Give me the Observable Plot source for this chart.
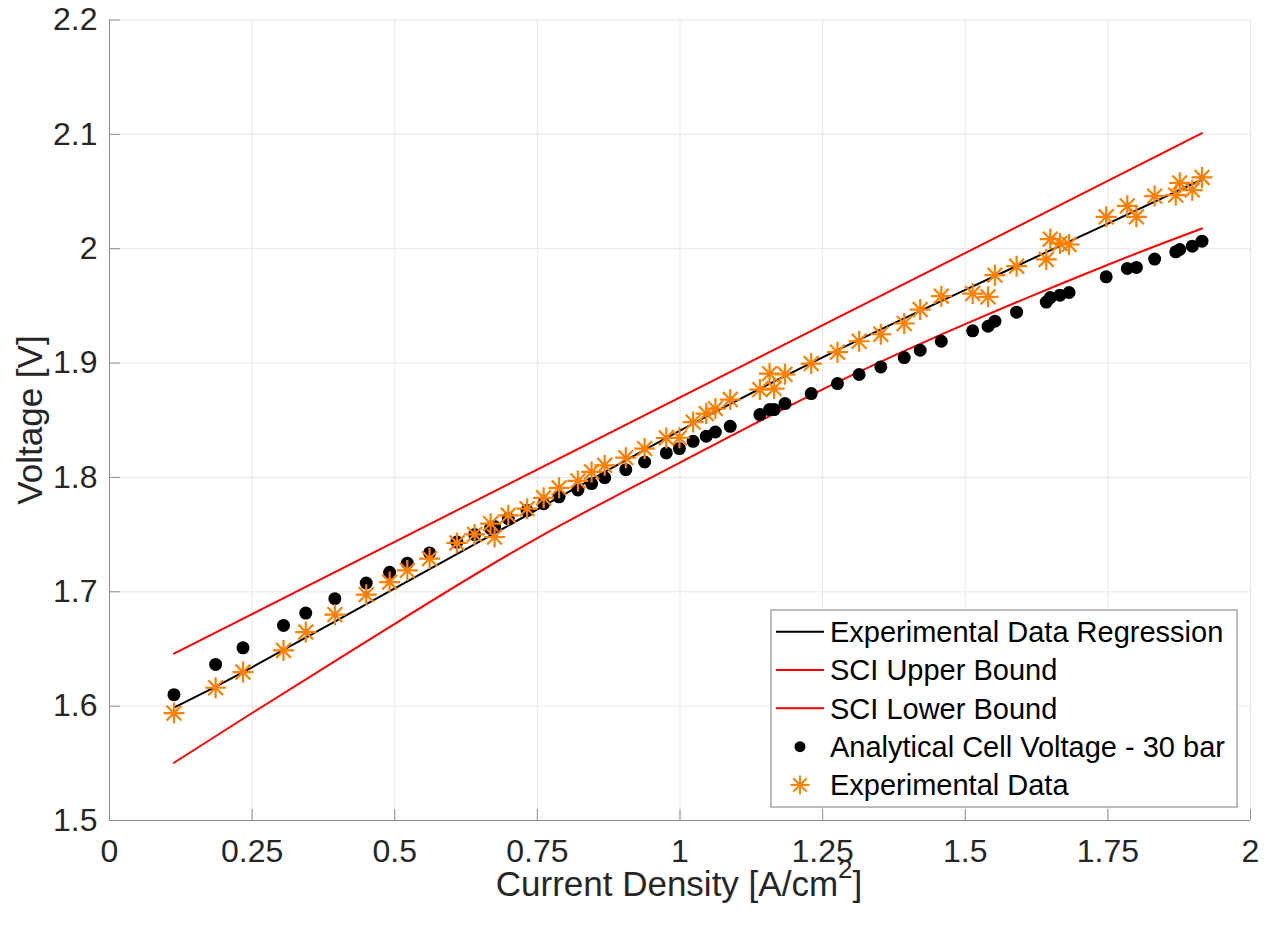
<!DOCTYPE html>
<html>
<head>
<meta charset="utf-8">
<script src="https://cdn.jsdelivr.net/npm/d3@7"></script>
<script src="https://cdn.jsdelivr.net/npm/@observablehq/plot@0.6"></script>
<style>
  html, body { margin: 0; padding: 0; background: #fff; overflow: hidden; }
</style>
</head>
<body>
<div id="chart"></div>
<script>
// ---------- data ----------
const xDomain = [0, 2];
const yDomain = [1.5, 2.2];
const xTicks = [0, 0.25, 0.5, 0.75, 1, 1.25, 1.5, 1.75, 2];
const yTicks = [1.5, 1.6, 1.7, 1.8, 1.9, 2.0, 2.1, 2.2];

const currentDensity = [0.113, 0.186, 0.234, 0.305, 0.344, 0.395, 0.450, 0.491, 0.522, 0.561,
  0.609, 0.640, 0.668, 0.675, 0.699, 0.732, 0.761, 0.788, 0.821, 0.845,
  0.868, 0.905, 0.938, 0.976, 0.999, 1.023, 1.046, 1.062, 1.088, 1.140,
  1.157, 1.165, 1.184, 1.230, 1.276, 1.314, 1.352, 1.393, 1.421, 1.458,
  1.513, 1.540, 1.552, 1.590, 1.642, 1.649, 1.666, 1.682, 1.747, 1.784,
  1.800, 1.832, 1.869, 1.876, 1.898, 1.915];

const analyticalVoltage = [1.610, 1.6365, 1.651, 1.6706, 1.6814, 1.694, 1.7077, 1.717, 1.725, 1.734,
  1.7435, 1.750, 1.7555, 1.757, 1.764, 1.771, 1.777, 1.783, 1.789, 1.7946,
  1.7998, 1.8068, 1.8135, 1.8214, 1.8252, 1.8316, 1.836, 1.8397, 1.8447, 1.855,
  1.8593, 1.8593, 1.8646, 1.8733, 1.8821, 1.890, 1.8966, 1.9048, 1.9112, 1.9191,
  1.9282, 1.9322, 1.9366, 1.9445, 1.9533, 1.9573, 1.9594, 1.9617, 1.9754, 1.9827,
  1.9836, 1.9909, 1.9973, 1.9993, 2.0022, 2.0066];

const experimentalVoltage = [1.5939, 1.6161, 1.6298, 1.6487, 1.6648, 1.680, 1.6975, 1.7085, 1.7187, 1.729,
  1.7427, 1.7502, 1.7596, 1.7479, 1.7669, 1.7727, 1.7822, 1.7909, 1.7969, 1.8048,
  1.8106, 1.8173, 1.8252, 1.8345, 1.8347, 1.8484, 1.8558, 1.8602, 1.8681, 1.8768,
  1.8908, 1.8777, 1.8902, 1.8996, 1.9095, 1.9191, 1.9252, 1.9346, 1.9468, 1.9585,
  1.9608, 1.9579, 1.9769, 1.9847, 1.9906, 2.0084, 2.0046, 2.0037, 2.0279, 2.0375,
  2.0279, 2.0460, 2.0469, 2.0576, 2.0512, 2.0623];

const regressionX = [0.113, 0.25, 0.5, 0.75, 1.0, 1.25, 1.5, 1.75, 1.915];
const regressionV = [1.5986, 1.634, 1.703, 1.772, 1.841, 1.905, 1.964, 2.022, 2.0605];

const upperX = [0.113, 1.915];
const upperV = [1.646, 2.101];

const lowerX = [0.113, 0.25, 0.5, 0.75, 1.0, 1.25, 1.5, 1.75, 1.915];
const lowerV = [1.5505, 1.594, 1.672, 1.747, 1.813, 1.877, 1.934, 1.986, 2.0177];

const legendLabels = ["Experimental Data Regression", "SCI Upper Bound", "SCI Lower Bound",
  "Analytical Cell Voltage - 30 bar", "Experimental Data"];

// ---------- tables ----------
const points = currentDensity.map((x, i) => ({x, a: analyticalVoltage[i], e: experimentalVoltage[i]}));
const regression = regressionX.map((x, i) => ({x, y: regressionV[i]}));
const upper = upperX.map((x, i) => ({x, y: upperV[i]}));
const lower = lowerX.map((x, i) => ({x, y: lowerV[i]}));

// ---------- styles ----------
const W = 1271, H = 928;
const mL = 109, mR = 21, mT = 19.5, mB = 108;
const axisColor = "#8f8f8f";
const gridColor = "#e6e6e6";
const textColor = "#262626";
const orange = "#ff8000";
const font = "'Liberation Sans', Arial, Helvetica, sans-serif";
const tickLen = 11;

const asterisk8 = {
  draw(context, size) {
    const r = Math.sqrt(size / Math.PI);
    const d = r * Math.SQRT1_2;
    context.moveTo(-r, 0); context.lineTo(r, 0);
    context.moveTo(0, -r); context.lineTo(0, r);
    context.moveTo(-d, -d); context.lineTo(d, d);
    context.moveTo(-d, d); context.lineTo(d, -d);
  }
};

const plotW = W - mL - mR, plotH = H - mT - mB;

const svgEl = Plot.plot({
  width: W, height: H,
  marginLeft: mL, marginRight: mR, marginTop: mT, marginBottom: mB,
  x: {domain: xDomain},
  y: {domain: yDomain},
  style: {fontFamily: font, fontSize: "32px", color: textColor, background: "#fff"},
  marks: [
    Plot.gridX(xTicks, {stroke: gridColor, strokeOpacity: 1}),
    Plot.gridY(yTicks, {stroke: gridColor, strokeOpacity: 1}),
    Plot.line(regression, {x: "x", y: "y", stroke: "#000", strokeWidth: 2, curve: "natural"}),
    Plot.line(upper, {x: "x", y: "y", stroke: "#ff0000", strokeWidth: 2}),
    Plot.line(lower, {x: "x", y: "y", stroke: "#ff0000", strokeWidth: 2, curve: "natural"}),
    Plot.dot(points, {x: "x", y: "a", r: 6.5, fill: "#000", stroke: "none"}),
    Plot.dot(points, {x: "x", y: "e", r: 10.5, symbol: asterisk8, fill: "none", stroke: orange, strokeWidth: 2.2}),
    // inward tick marks
    Plot.ruleX(xTicks, {x: d => d, stroke: axisColor, insetTop: plotH - tickLen}),
    Plot.ruleY(yTicks, {y: d => d, stroke: axisColor, insetRight: plotW - tickLen}),
    // axis lines
    Plot.ruleX([xDomain[0]], {stroke: axisColor}),
    Plot.ruleY([yDomain[0]], {stroke: axisColor}),
    Plot.axisX(xTicks, {tickSize: 0, tickPadding: 19, tickFormat: d => String(d), label: null, fontSize: 32, fill: textColor}),
    Plot.axisY(yTicks, {tickSize: 0, tickPadding: 12, tickFormat: d => String(d), label: null, fontSize: 32, fill: textColor})
  ]
});

document.getElementById("chart").appendChild(svgEl);
const svg = d3.select(svgEl);

// axis labels
const xl = svg.append("text")
  .attr("x", 679).attr("y", 896)
  .attr("text-anchor", "middle")
  .style("font-family", font).style("font-size", "35px").attr("fill", textColor);
xl.append("tspan").text("Current Density [A/cm");
xl.append("tspan").attr("dy", -18).style("font-size", "26px").text("2");
xl.append("tspan").attr("dy", 18).text("]");

svg.append("text")
  .attr("transform", "translate(42,420) rotate(-90)")
  .attr("text-anchor", "middle")
  .style("font-family", font).style("font-size", "35px").attr("fill", textColor)
  .text("Voltage [V]");

// legend
const lg = svg.append("g");
lg.append("rect").attr("x", 771).attr("y", 610).attr("width", 466).attr("height", 197)
  .attr("fill", "#fff").attr("stroke", "#7a7a7a").attr("stroke-width", 1);
const rowY = [631.7, 670, 708.3, 746.7, 785];
const lineColors = ["#000", "#ff0000", "#ff0000"];
lineColors.forEach((c, i) => {
  lg.append("line").attr("x1", 776).attr("x2", 824).attr("y1", rowY[i]).attr("y2", rowY[i])
    .attr("stroke", c).attr("stroke-width", 2);
});
lg.append("circle").attr("cx", 800).attr("cy", rowY[3]).attr("r", 5.5).attr("fill", "#000");
const sp = d3.path();
asterisk8.draw(sp, Math.PI * 9.5 * 9.5);
lg.append("path").attr("d", sp.toString()).attr("transform", `translate(800,${rowY[4]})`)
  .attr("fill", "none").attr("stroke", orange).attr("stroke-width", 2);
legendLabels.forEach((t, i) => {
  lg.append("text").attr("x", 830).attr("y", rowY[i]).attr("dy", "0.36em")
    .attr("text-anchor", "start")
    .style("font-family", font).style("font-size", "29px").attr("fill", "#000").text(t);
});
</script>
</body>
</html>
